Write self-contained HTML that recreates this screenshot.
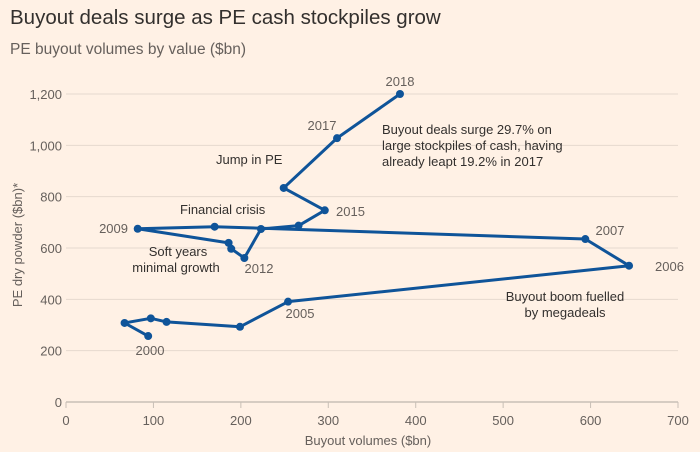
<!DOCTYPE html>
<html><head><meta charset="utf-8">
<style>
body{margin:0;background:#fff1e5;font-family:"Liberation Sans",sans-serif;}
svg{display:block}
</style></head>
<body>
<svg id="chart" width="700" height="452">
<rect width="700" height="452" fill="#fff1e5"/>
<text x="10" y="24" font-size="20.5" fill="#33302e">Buyout deals surge as PE cash stockpiles grow</text>
<text x="10" y="54" font-size="15.5" fill="#66605c">PE buyout volumes by value ($bn)</text>
<g id="grid"></g><g id="ticks"></g>
<text transform="translate(22,245) rotate(-90)" text-anchor="middle" font-size="13" fill="#66605c">PE dry powder ($bn)*</text>
<text x="368" y="445" text-anchor="middle" font-size="13" fill="#66605c">Buyout volumes ($bn)</text>
<g id="series"></g>
<g font-size="13" fill="#33302e">
<text x="216" y="164">Jump in PE</text>
<text x="180" y="214">Financial crisis</text>
<text x="185" y="256" text-anchor="middle"><tspan x="178">Soft years</tspan><tspan x="176" dy="16">minimal growth</tspan></text>
<text x="382" y="134"><tspan x="382">Buyout deals surge 29.7% on</tspan><tspan x="382" dy="16">large stockpiles of cash, having</tspan><tspan x="382" dy="16">already leapt 19.2% in 2017</tspan></text>
<text x="565" y="301" text-anchor="middle"><tspan x="565">Buyout boom fuelled</tspan><tspan x="565" dy="16">by megadeals</tspan></text>
</g>
</svg>
<script>
const years=["2000","2001","2002","2003","2004","2005","2006","2007","2008","2009","2010","2011","2012","2013","2014","2015","2016","2017","2018"];
const buyout=[94,67,97,115,199,254,644,594,170,82,186,189,204,223,266,296,249,310,382];
const dryPowder=[257,308,326,312,293,391,531,635,683,675,620,597,561,674,687,747,834,1028,1200];
const xTicks=[0,100,200,300,400,500,600,700];
const yTicks=[0,200,400,600,800,1000,1200];
const labeled={"2000":[150,355,"middle"],"2005":[300,318,"middle"],"2006":[655,271,"start"],"2007":[610,235,"middle"],"2009":[128,233,"end"],"2012":[259,273,"middle"],"2015":[336,216,"start"],"2017":[322,130,"middle"],"2018":[400,86,"middle"]};
const X=v=>66+v*(678-66)/700, Y=v=>402-v*(402-94)/1200;
const NS="http://www.w3.org/2000/svg";
function mk(t,a,p){const e=document.createElementNS(NS,t);for(const k in a)e.setAttribute(k,a[k]);p.appendChild(e);return e;}
const grid=document.getElementById('grid'),ticks=document.getElementById('ticks'),ser=document.getElementById('series');
yTicks.forEach(v=>{
 const l=mk('line',{x1:66,x2:678,y1:Y(v),y2:Y(v),stroke:v==0?'#c8bfb6':'#e6d9ce','stroke-width':v==0?1.5:1},grid);
 
 
 const t=mk('text',{x:62,y:Y(v)+5,'text-anchor':'end','font-size':13,fill:'#66605c'},ticks);
 t.textContent=v.toLocaleString('en-US');
 
 
});
xTicks.forEach(v=>{
 const l=mk('line',{x1:X(v),x2:X(v),y1:402,y2:408,stroke:'#c8bfb6'},ticks);
 
 
 const t=mk('text',{x:X(v),y:425,'text-anchor':'middle','font-size':13,fill:'#66605c'},ticks);
 t.textContent=v;
 
 
});
const pl=mk('polyline',{points:buyout.map((b,i)=>X(b)+','+Y(dryPowder[i])).join(' '),fill:'none',stroke:'#0f5499','stroke-width':3,'stroke-linejoin':'round'},ser);


buyout.forEach((b,i)=>{
 const c=mk('circle',{cx:X(b),cy:Y(dryPowder[i]),r:4,fill:'#0f5499'},ser);
 
 
 const lb=labeled[years[i]];
 if(lb){const t=mk('text',{x:lb[0],y:lb[1],'text-anchor':lb[2],'font-size':13,fill:'#66605c'},ser);
 t.textContent=years[i];
 
 }
});
</script>
</body></html>
